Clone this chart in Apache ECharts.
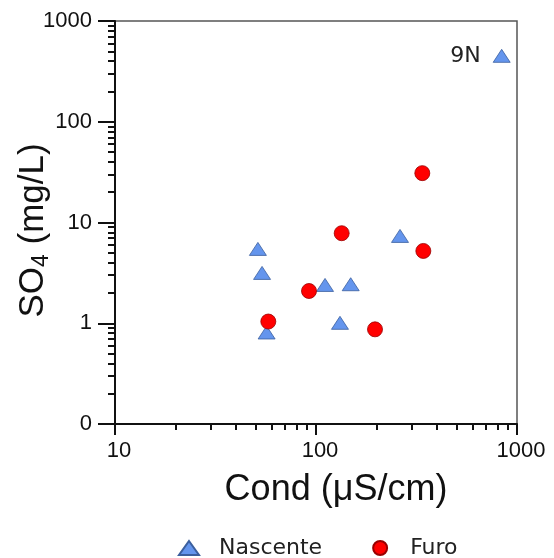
<!DOCTYPE html>
<html>
<head>
<meta charset="utf-8">
<script src="https://cdn.jsdelivr.net/npm/echarts@6/dist/echarts.min.js"></script>
<style>
html,body{margin:0;padding:0;background:#fff;}
#chart{width:554px;height:558px;}
</style>
</head>
<body>
<div id="chart"></div>
<script>
// Data
var nascenteCond = [51.4, 53.9, 56.8, 110.9, 148.8, 131.6, 261.8, 839];
var nascenteSO4  = [5.47, 3.16, 0.81, 2.4, 2.44, 1.01, 7.36, 451];
var nascenteLabels = ['', '', '', '', '', '', '', '9N'];
var furoCond = [57.9, 92.3, 134.2, 196.6, 338, 342];
var furoSO4  = [1.04, 2.09, 7.83, 0.87, 30.9, 5.22];
var xMajorTicks = [10, 100, 1000];
var yMajorTicks = [0.1, 1, 10, 100, 1000];
var xMinorTicks = [20,30,40,50,60,70,80,90,200,300,400,500,600,700,800,900];
var yMinorTicks = [0.2,0.3,0.4,0.5,0.6,0.7,0.8,0.9,2,3,4,5,6,7,8,9,20,30,40,50,60,70,80,90,200,300,400,500,600,700,800,900];

var FONT = 'Liberation Sans, Arial, sans-serif';
var LFONT = 'DejaVu Sans, Verdana, sans-serif';

var nascenteData = nascenteCond.map(function (x, i) {
  var item = { value: [x, nascenteSO4[i]] };
  if (nascenteLabels[i]) {
    item.label = { show: true, formatter: nascenteLabels[i], position: 'left', distance: 12,
      fontSize: 22, fontFamily: LFONT, color: '#222' };
  }
  return item;
});
var furoData = furoCond.map(function (x, i) { return [x, furoSO4[i]]; });

var chart = echarts.init(document.getElementById('chart'), null, { renderer: 'canvas' });

chart.setOption({
  animation: false,
  backgroundColor: '#fff',
  grid: { left: 115, top: 21, right: 37, bottom: 134, show: true, borderColor: '#555', borderWidth: 1.5,
          backgroundColor: 'transparent', containLabel: false, outerBoundsMode: 'none' },
  legend: {
    bottom: -6, left: 173, itemGap: 50, itemWidth: 20, itemHeight: 14,
    textStyle: { fontSize: 22, fontFamily: LFONT, color: '#222', padding: [0, 0, 0, 15] },
    data: ['Nascente', 'Furo']
  },
  xAxis: [{
    type: 'log', logBase: 10, min: 10, max: 1000,
    name: 'Cond (μS/cm)', nameLocation: 'middle', nameGap: 48, nameMoveOverlap: false,
    nameTextStyle: { fontSize: 36, fontFamily: FONT, color: '#111', padding: [0, 0, 0, 40] },
    axisLine: { show: true, onZero: false, lineStyle: { color: '#111', width: 2 } },
    axisTick: { show: true, inside: false, customValues: xMajorTicks, length: 11, lineStyle: { color: '#111', width: 2 } },
    axisLabel: { customValues: xMajorTicks, fontSize: 22, fontFamily: FONT, color: '#111', margin: 16, padding: [0, 0, 0, 8],
      formatter: function (v) { return String(Math.round(v)); } },
    splitLine: { show: false }
  }, {
    type: 'log', logBase: 10, min: 10, max: 1000, position: 'bottom',
    axisLine: { show: false },
    axisTick: { show: true, inside: false, customValues: xMinorTicks, length: 6, lineStyle: { color: '#111', width: 2 } },
    axisLabel: { show: false },
    splitLine: { show: false }
  }],
  yAxis: [{
    type: 'log', logBase: 10, min: 0.1, max: 1000,
    name: '{a|SO}{s|4}{a| (mg/L)}', nameLocation: 'middle', nameGap: 62, nameRotate: 90, nameMoveOverlap: false,
    nameTextStyle: { padding: [0, 16, 0, 0], rich: {
      a: { fontSize: 35, fontFamily: FONT, color: '#111' },
      s: { fontSize: 23, fontFamily: FONT, color: '#111', verticalAlign: 'bottom', padding: [16, 0, 0, 0] }
    } },
    axisLine: { show: true, onZero: false, lineStyle: { color: '#111', width: 2 } },
    axisTick: { show: true, inside: false, customValues: yMajorTicks, length: 17, lineStyle: { color: '#111', width: 2 } },
    axisLabel: { customValues: yMajorTicks, fontSize: 22, fontFamily: FONT, color: '#111', margin: 23,
      formatter: function (v) { return v < 1 ? '0' : String(Math.round(v)); } },
    splitLine: { show: false }
  }, {
    type: 'log', logBase: 10, min: 0.1, max: 1000, position: 'left',
    axisLine: { show: false },
    axisTick: { show: true, inside: false, customValues: yMinorTicks, length: 7, lineStyle: { color: '#111', width: 2 } },
    axisLabel: { show: false },
    splitLine: { show: false }
  }],
  series: [{
    name: 'Nascente', type: 'scatter', xAxisIndex: 0, yAxisIndex: 0,
    symbol: 'triangle', symbolSize: [17, 13],
    itemStyle: { color: '#6495ed', borderColor: '#3b5f9e', borderWidth: 0.8, opacity: 1 },
    data: nascenteData
  }, {
    name: 'Furo', type: 'scatter', xAxisIndex: 0, yAxisIndex: 0,
    symbol: 'circle', symbolSize: 15,
    itemStyle: { color: '#ff0000', borderColor: '#990000', borderWidth: 0.8, opacity: 1 },
    data: furoData
  }]
});
</script>
</body>
</html>
